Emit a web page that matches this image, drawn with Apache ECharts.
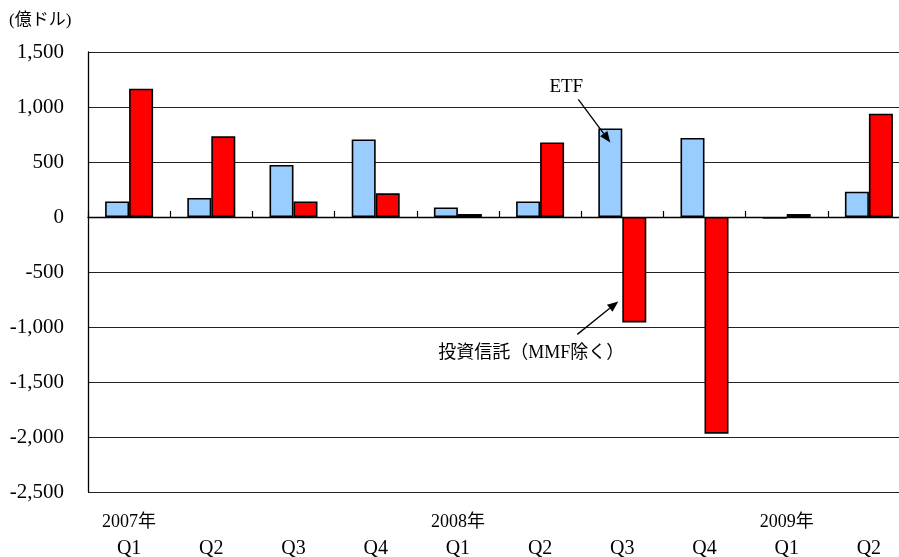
<!DOCTYPE html>
<html>
<head>
<meta charset="utf-8">
<script src="https://cdn.jsdelivr.net/npm/echarts@6/dist/echarts.min.js"></script>
<style>
  html, body { margin: 0; padding: 0; background: #fff; }
  #chart { width: 899px; height: 557px; }
</style>
</head>
<body>
<div id="chart"></div>
<script>
// Quarterly net flows (hundred-million USD)
const categories = ['2007Q1','2007Q2','2007Q3','2007Q4','2008Q1','2008Q2','2008Q3','2008Q4','2009Q1','2009Q2'];
const yearLabels = ['2007年','','','','2008年','','','','2009年',''];
const quarterLabels = ['Q1','Q2','Q3','Q4','Q1','Q2','Q3','Q4','Q1','Q2'];
const etfValues = [142, 173, 473, 705, 87, 142, 805, 718, -15, 230];
const fundValues = [1166, 733, 142, 215, 27, 678, -958, -1970, 27, 939];
const unitLabel = '(億ドル)';
const etfName = 'ETF';
const fundName = '投資信託（MMF除く）';

const FONT = "'Liberation Serif', 'Noto Sans CJK JP', serif";

const chart = echarts.init(document.getElementById('chart'), null, { renderer: 'canvas' });

chart.setOption({
  animation: false,
  backgroundColor: '#fff',
  // the plot runs slightly past the right edge of the canvas
  grid: { left: 88, top: 52, right: -11, height: 440, containLabel: false, outerBoundsMode: 'none' },
  xAxis: [
    {
      type: 'category',
      data: categories,
      boundaryGap: true,
      axisLine: { onZero: true, lineStyle: { color: '#000', width: 1.3 } },
      axisTick: { show: true, inside: true, length: 6, lineStyle: { color: '#000', width: 1.2 } },
      axisLabel: { show: false },
      splitLine: { show: false }
    },
    {
      type: 'category',
      data: categories,
      position: 'bottom',
      boundaryGap: true,
      axisLine: { show: false, onZero: false },
      axisTick: { show: false },
      splitLine: { show: false },
      axisLabel: {
        interval: 0,
        margin: 17,
        formatter: function (v, i) {
          const y = yearLabels[i] || ' ';
          return '{y|' + y + '}\n{q|' + quarterLabels[i] + '}';
        },
        rich: {
          y: { fontFamily: FONT, fontSize: 18, color: '#000', lineHeight: 26 },
          q: { fontFamily: FONT, fontSize: 20, color: '#000', lineHeight: 28 }
        }
      }
    }
  ],
  yAxis: {
    type: 'value',
    min: -2500,
    max: 1500,
    interval: 500,
    axisLine: { show: true, lineStyle: { color: '#000', width: 1.3 } },
    axisTick: { show: false },
    splitLine: { show: true, lineStyle: { color: '#222', width: 1 } },
    axisLabel: {
      margin: 24,
      padding: [5, 0, 0, 0],
      fontFamily: FONT,
      fontSize: 21,
      color: '#000',
      formatter: function (v) { return v.toLocaleString('en-US'); }
    }
  },
  series: [
    {
      name: etfName,
      type: 'bar',
      xAxisIndex: 0,
      data: etfValues,
      barWidth: 24,
      barGap: '0%',
      itemStyle: { color: '#99CCFF', borderColor: '#000', borderWidth: 1.6 }
    },
    {
      name: fundName,
      type: 'bar',
      xAxisIndex: 0,
      data: fundValues,
      barWidth: 24,
      barGap: '0%',
      itemStyle: { color: '#FF0000', borderColor: '#000', borderWidth: 1.6 }
    }
  ]
});

// Arrow made of a shaft and a filled head, drawn above the bars
function arrow(from, to) {
  const dx = to[0] - from[0], dy = to[1] - from[1];
  const len = Math.hypot(dx, dy);
  const ux = dx / len, uy = dy / len;
  const hl = 11, hw = 4.5;
  const bx = to[0] - ux * hl, by = to[1] - uy * hl;
  return [
    { type: 'line', z: 10, silent: true, shape: { x1: from[0], y1: from[1], x2: bx, y2: by }, style: { stroke: '#000', lineWidth: 1.3 } },
    { type: 'polygon', z: 10, silent: true, shape: { points: [to, [bx - uy * hw, by + ux * hw], [bx + uy * hw, by - ux * hw]] }, style: { fill: '#000' } }
  ];
}

const ref = { xAxisIndex: 0, yAxisIndex: 0 };
const etfTop = chart.convertToPixel(ref, [categories[6], etfValues[6]]);
const fundBottom = chart.convertToPixel(ref, [categories[6], fundValues[6]]);

const etfTip = [etfTop[0] - 12, etfTop[1] + 14];
const fundTip = [fundBottom[0] - 4, fundBottom[1] - 21];

const graphics = [
  {
    type: 'text', left: 9, top: 12, z: 10, silent: true,
    style: { text: unitLabel, font: "17px " + FONT, fill: '#000' }
  },
  {
    type: 'text', z: 10, silent: true, x: etfTop[0] - 56, y: etfTop[1] - 41,
    style: { text: etfName, font: "19px " + FONT, fill: '#000', align: 'center', verticalAlign: 'middle' }
  },
  {
    type: 'text', z: 10, silent: true, x: fundBottom[0] - 91, y: fundBottom[1] + 31,
    style: { text: fundName, font: "18px " + FONT, fill: '#000', align: 'center', verticalAlign: 'middle' }
  }
].concat(
  arrow([etfTip[0] - 32, etfTip[1] - 43], etfTip),
  arrow([fundTip[0] - 41, fundTip[1] + 33], fundTip)
);

chart.setOption({ graphic: graphics });
</script>
</body>
</html>
